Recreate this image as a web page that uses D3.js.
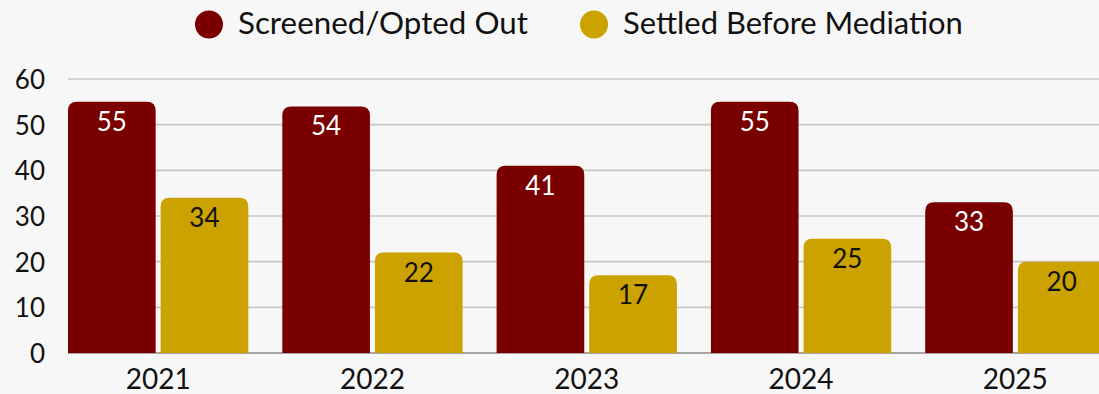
<!DOCTYPE html>
<html>
<head>
<meta charset="utf-8">
<script src="https://cdn.jsdelivr.net/npm/d3@7"></script>
<style>
  html, body { margin: 0; padding: 0; background: #f7f7f7; }
  svg { display: block; }
  text { font-family: "Lato", "Noto Sans", sans-serif; }
</style>
</head>
<body>
<svg id="chart" width="1099" height="394"></svg>
<script>
// Chart data
const years = ["2021", "2022", "2023", "2024", "2025"];
const seriesNames = ["Screened/Opted Out", "Settled Before Mediation"];
const screened = [55, 54, 41, 55, 33];
const settled = [34, 22, 17, 25, 20];
const yTicks = [0, 10, 20, 30, 40, 50, 60];

const colors = ["#7a0000", "#cba200"];
const labelColors = ["#ffffff", "#111111"];

const W = 1099, H = 394;
const svg = d3.select("#chart");

// Scales
const x = d3.scaleBand()
  .domain(years)
  .range([51, 1122.5])
  .paddingInner(0.1587)
  .paddingOuter(0.0793);

const xs = d3.scaleBand()
  .domain(seriesNames)
  .range([0, x.bandwidth()])
  .paddingInner(0.054);

const y = d3.scaleLinear().domain([0, 60]).range([353, 79]);

// Gridlines
svg.append("g")
  .selectAll("line")
  .data(yTicks)
  .join("line")
  .attr("x1", 68)
  .attr("x2", W)
  .attr("y1", d => y(d))
  .attr("y2", d => y(d))
  .attr("stroke", d => d === 0 ? "#8a8a8a" : "#c8c8c8")
  .attr("stroke-width", 1.6);

// Y axis labels
const yAxis = d3.axisLeft(y).tickValues(yTicks).tickSize(0).tickPadding(0);
const gy = svg.append("g").attr("transform", "translate(45,0)").call(yAxis);
gy.select(".domain").remove();
gy.selectAll("text")
  .attr("font-size", 26)
  .attr("fill", "#111")
  .attr("dy", "0.36em")
  .style("font-family", "Lato, sans-serif");

// X axis labels
const xAxis = d3.axisBottom(x).tickSize(0).tickPadding(0);
const gx = svg.append("g").attr("transform", "translate(0,364)").call(xAxis);
gx.select(".domain").remove();
gx.selectAll("text")
  .attr("font-size", 28)
  .attr("fill", "#111")
  .attr("dy", "0.9em")
  .style("font-family", "Lato, sans-serif");

// Bars with rounded tops
function topRoundedRect(x0, y0, w, h, r) {
  r = Math.min(r, h, w / 2);
  return `M${x0},${y0 + h}V${y0 + r}Q${x0},${y0} ${x0 + r},${y0}H${x0 + w - r}Q${x0 + w},${y0} ${x0 + w},${y0 + r}V${y0 + h}Z`;
}

const rows = years.map((yr, i) => ({ year: yr, values: [screened[i], settled[i]] }));

const groups = svg.append("g")
  .selectAll("g")
  .data(rows)
  .join("g")
  .attr("transform", d => `translate(${x(d.year)},0)`);

const bars = groups.selectAll("g.bar")
  .data(d => d.values.map((v, k) => ({ key: seriesNames[k], k, v })))
  .join("g")
  .attr("class", "bar");

bars.append("path")
  .attr("d", d => topRoundedRect(xs(d.key), y(d.v), xs.bandwidth(), y(0) - y(d.v), 9))
  .attr("fill", d => colors[d.k]);

bars.append("text")
  .attr("x", d => xs(d.key) + xs.bandwidth() / 2)
  .attr("y", d => y(d.v) + 29)
  .attr("text-anchor", "middle")
  .attr("font-size", 26)
  .attr("fill", d => labelColors[d.k])
  .style("font-family", "Lato, sans-serif")
  .text(d => d.v);

// Legend
const legend = svg.append("g");
const legendItems = [
  { name: seriesNames[0], cx: 209, tx: 238, width: 290 },
  { name: seriesNames[1], cx: 594, tx: 623, width: 340 }
];
legendItems.forEach((it, k) => {
  legend.append("circle")
    .attr("cx", it.cx).attr("cy", 24.5).attr("r", 14)
    .attr("fill", colors[k]);
  const t = legend.append("text")
    .attr("x", it.tx).attr("y", 34)
    .attr("font-size", 27)
    .attr("fill", "#111")
    .text(it.name);
  // size the label to its slot
  const len = t.node().getComputedTextLength();
  t.attr("font-size", 27 * it.width / len);
});
</script>
</body>
</html>
